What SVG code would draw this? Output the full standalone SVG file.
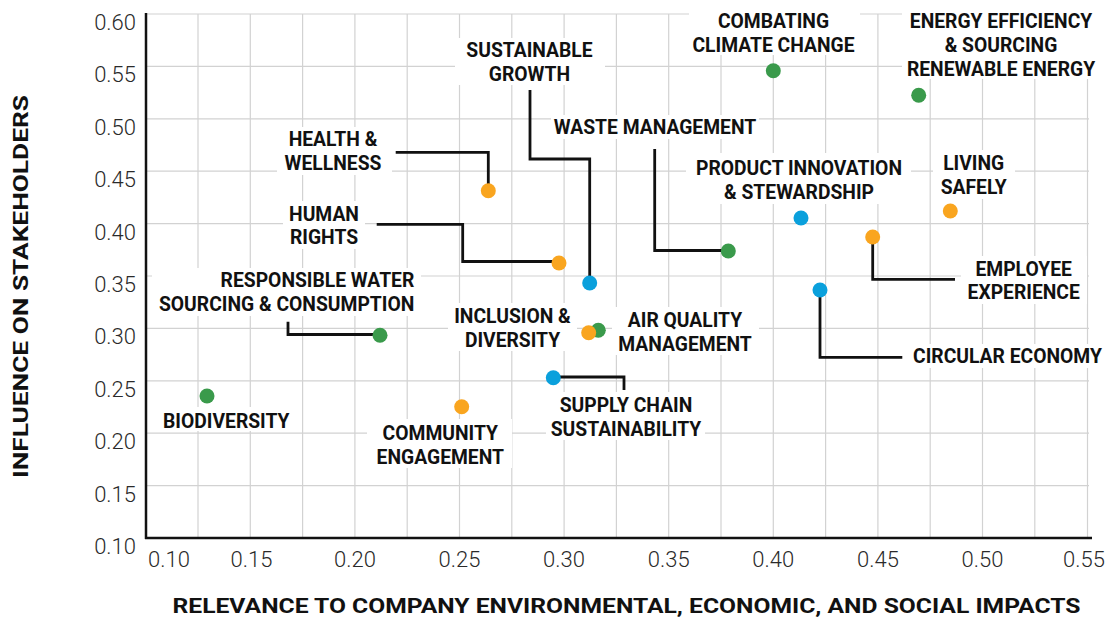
<svg xmlns="http://www.w3.org/2000/svg" width="1111" height="618" viewBox="0 0 1111 618">
<style>
.grid line{stroke:#d2d2d2;stroke-width:1.2}
.axis{stroke:#111;stroke-width:2.5}
.tick{font-family:Roboto,"Liberation Sans",sans-serif;font-weight:300;font-size:22px;fill:#2a2a2a}
.lbl{font-family:Roboto,"Liberation Sans",sans-serif;font-weight:700;font-size:19.3px;fill:#111;text-anchor:middle}
.bg{fill:#fff}
.title{font-family:Roboto,"Liberation Sans",sans-serif;font-weight:700;font-size:20px;fill:#111;text-anchor:middle}
.conn path{fill:none;stroke:#111;stroke-width:2.8}
.g{fill:#3a9a4b}.o{fill:#f9a51f}.b{fill:#0aa0dc}
</style>
<rect width="1111" height="618" fill="#fff"/>
<g class="grid">
<line x1="198" y1="14" x2="198" y2="538"/><line x1="250.3" y1="14" x2="250.3" y2="538"/><line x1="302.6" y1="14" x2="302.6" y2="538"/><line x1="354.9" y1="14" x2="354.9" y2="538"/><line x1="407.2" y1="14" x2="407.2" y2="538"/><line x1="459.5" y1="14" x2="459.5" y2="538"/><line x1="511.8" y1="14" x2="511.8" y2="538"/><line x1="564.1" y1="14" x2="564.1" y2="538"/><line x1="616.4" y1="14" x2="616.4" y2="538"/><line x1="668.7" y1="14" x2="668.7" y2="538"/><line x1="721" y1="14" x2="721" y2="538"/><line x1="773.3" y1="14" x2="773.3" y2="538"/><line x1="825.6" y1="14" x2="825.6" y2="538"/><line x1="877.9" y1="14" x2="877.9" y2="538"/><line x1="930.2" y1="14" x2="930.2" y2="538"/><line x1="982.5" y1="14" x2="982.5" y2="538"/><line x1="1034.8" y1="14" x2="1034.8" y2="538"/><line x1="1087.5" y1="14" x2="1087.5" y2="538"/>
<line x1="146" y1="14" x2="1089" y2="14"/><line x1="146" y1="66.4" x2="1089" y2="66.4"/><line x1="146" y1="118.8" x2="1089" y2="118.8"/><line x1="146" y1="171.2" x2="1089" y2="171.2"/><line x1="146" y1="223.6" x2="1089" y2="223.6"/><line x1="146" y1="276" x2="1089" y2="276"/><line x1="146" y1="328.4" x2="1089" y2="328.4"/><line x1="146" y1="380.8" x2="1089" y2="380.8"/><line x1="146" y1="433.2" x2="1089" y2="433.2"/><line x1="146" y1="485.6" x2="1089" y2="485.6"/>
</g>
<g id="axes">
<line class="axis" x1="146" y1="13" x2="146" y2="539"/>
<line class="axis" x1="145" y1="538" x2="1092" y2="538"/>
<g class="tick" text-anchor="end">
<text x="136" y="30">0.60</text><text x="136" y="82.4">0.55</text><text x="136" y="134.8">0.50</text><text x="136" y="187.2">0.45</text><text x="136" y="239.6">0.40</text><text x="136" y="292">0.35</text><text x="136" y="344.4">0.30</text><text x="136" y="396.8">0.25</text><text x="136" y="449.2">0.20</text><text x="136" y="501.6">0.15</text><text x="136" y="554">0.10</text>
</g>
<g class="tick" text-anchor="middle">
<text x="169" y="567">0.10</text><text x="251.5" y="567">0.15</text><text x="355" y="567">0.20</text><text x="459.5" y="567">0.25</text><text x="564" y="567">0.30</text><text x="668.7" y="567">0.35</text><text x="773.3" y="567">0.40</text><text x="878" y="567">0.45</text><text x="982.5" y="567">0.50</text><text x="1084" y="567">0.55</text>
</g>
<text class="title" x="626.5" y="612.5" textLength="908" lengthAdjust="spacingAndGlyphs">RELEVANCE TO COMPANY ENVIRONMENTAL, ECONOMIC, AND SOCIAL IMPACTS</text>
<text class="title" transform="translate(28 286.5) rotate(-90)" x="0" y="0" textLength="383" lengthAdjust="spacingAndGlyphs">INFLUENCE ON STAKEHOLDERS</text>
</g>
<g class="conn" id="connectors">
<path d="M395.7 152.3H488.3V190.7"/>
<path d="M376.7 224.3H462.7V261.5H559"/>
<path d="M530 90V159H589.7V283"/>
<path d="M654.7 149V250.5H728.3"/>
<path d="M288 321.7V334.5H380"/>
<path d="M553.3 377H624V390"/>
<path d="M872.7 237V279.3H955"/>
<path d="M820 290V357.3H902.3"/>
</g>
<g id="health-wellness"><rect class="bg" x="277" y="127" width="115" height="48"/><circle class="o" cx="488.3" cy="190.7" r="7.5"/><text class="lbl" x="333" y="145.7">HEALTH &amp;</text><text class="lbl" x="333" y="169.5">WELLNESS</text></g>
<g id="sustainable-growth"><rect class="bg" x="455" y="38" width="150" height="47"/><text class="lbl" x="529.5" y="57.3">SUSTAINABLE</text><text class="lbl" x="529.5" y="81">GROWTH</text></g>
<g id="waste-management"><rect class="bg" x="551" y="115" width="208" height="24"/><circle class="g" cx="728.3" cy="251" r="7.5"/><text class="lbl" x="655" y="134">WASTE MANAGEMENT</text></g>
<g id="combating-climate-change"><rect class="bg" x="689" y="9" width="171" height="46"/><circle class="g" cx="773.3" cy="70.7" r="7.5"/><text class="lbl" x="773.5" y="28">COMBATING</text><text class="lbl" x="773.5" y="51.7">CLIMATE CHANGE</text></g>
<g id="energy-efficiency"><rect class="bg" x="902" y="9" width="200" height="70"/><circle class="g" cx="918.7" cy="95.3" r="7.5"/><text class="lbl" x="1001" y="28">ENERGY EFFICIENCY</text><text class="lbl" x="1001" y="52">&amp; SOURCING</text><text class="lbl" x="1001" y="76">RENEWABLE ENERGY</text></g>
<g id="product-innovation"><rect class="bg" x="686" y="153" width="225" height="51"/><circle class="b" cx="801" cy="218" r="7.5"/><text class="lbl" x="799" y="175">PRODUCT INNOVATION</text><text class="lbl" x="799" y="198.5">&amp; STEWARDSHIP</text></g>
<g id="living-safely"><rect class="bg" x="933" y="150" width="82" height="49"/><circle class="o" cx="950.3" cy="211" r="7.5"/><text class="lbl" x="973.7" y="170">LIVING</text><text class="lbl" x="973.7" y="193.5">SAFELY</text></g>
<g id="human-rights"><rect class="bg" x="283" y="201" width="82" height="48"/><circle class="o" cx="559" cy="263" r="7.5"/><text class="lbl" x="324" y="220.7">HUMAN</text><text class="lbl" x="324" y="244">RIGHTS</text></g>
<g id="sustainable-growth-point"><circle class="b" cx="589.7" cy="283" r="7.5"/></g>
<g id="responsible-water"><rect class="bg" x="152" y="268" width="269" height="48"/><circle class="g" cx="380" cy="335.3" r="7.5"/><text class="lbl" x="414.3" y="287.3" style="text-anchor:end">RESPONSIBLE WATER</text><text class="lbl" x="414.3" y="311" style="text-anchor:end">SOURCING &amp; CONSUMPTION</text></g>
<g id="circular-economy"><rect class="bg" x="906" y="344" width="203" height="24"/><circle class="b" cx="820" cy="290" r="7.5"/><text class="lbl" x="1007.5" y="363.3">CIRCULAR ECONOMY</text></g>
<g id="employee-experience"><rect class="bg" x="961" y="256" width="126" height="48"/><circle class="o" cx="872.7" cy="237" r="7.5"/><text class="lbl" x="1023.7" y="275.7">EMPLOYEE</text><text class="lbl" x="1023.7" y="299">EXPERIENCE</text></g>
<g id="air-quality"><rect class="bg" x="612" y="307" width="147" height="48"/><circle class="g" cx="598.3" cy="330.3" r="7.5"/><text class="lbl" x="685" y="326.7">AIR QUALITY</text><text class="lbl" x="685" y="350.7">MANAGEMENT</text></g>
<g id="inclusion-diversity"><rect class="bg" x="448" y="303" width="129" height="48"/><circle class="o" cx="588.7" cy="332.7" r="7.5"/><text class="lbl" x="512.5" y="322.7">INCLUSION &amp;</text><text class="lbl" x="512.5" y="346.7">DIVERSITY</text></g>
<g id="supply-chain"><rect class="bg" x="546" y="392" width="159" height="48"/><circle class="b" cx="553.3" cy="377.7" r="7.5"/><text class="lbl" x="626" y="411.7">SUPPLY CHAIN</text><text class="lbl" x="626" y="436">SUSTAINABILITY</text></g>
<g id="biodiversity"><rect class="bg" x="155" y="407" width="143" height="24"/><circle class="g" cx="207" cy="396" r="7.5"/><text class="lbl" x="226.3" y="427.7">BIODIVERSITY</text></g>
<g id="community-engagement"><rect class="bg" x="367" y="419" width="145" height="49"/><circle class="o" cx="461.7" cy="406.7" r="7.5"/><text class="lbl" x="440.3" y="440">COMMUNITY</text><text class="lbl" x="440.3" y="464">ENGAGEMENT</text></g>
</svg>
